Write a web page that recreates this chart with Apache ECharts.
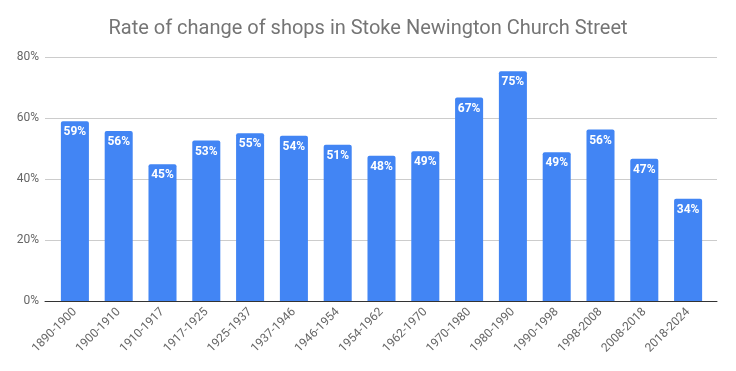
<!DOCTYPE html>
<html><head><meta charset="utf-8">
<script src="https://cdn.jsdelivr.net/npm/echarts@6/dist/echarts.min.js"></script>
<style>html,body{margin:0;padding:0;background:#fff}#c{width:736px;height:371px}</style>
</head><body><div id="c"></div>
<script>
const categories = ["1890-1900","1900-1910","1910-1917","1917-1925","1925-1937","1937-1946","1946-1954","1954-1962","1962-1970","1970-1980","1980-1990","1990-1998","1998-2008","2008-2018","2018-2024"];
const values = [58.9, 55.7, 44.8, 52.6, 55.0, 54.2, 51.2, 47.6, 49.1, 66.7, 75.3, 48.8, 56.2, 46.6, 33.5];
const yTicks = [0, 20, 40, 60, 80];

const yMin = yTicks[0], yMax = yTicks[yTicks.length-1];
const chart = echarts.init(document.getElementById('c'));
chart.setOption({
  animation: false,
  title: {
    text: 'Rate of change of shops in Stoke Newington Church Street',
    left: 'center', top: 14,
    textStyle: {fontFamily: 'Roboto', fontSize: 20, fontWeight: 'normal', color: '#757575'}
  },
  grid: [
    {left: 45, right: 19, top: 57, bottom: 70},
    {left: 53, right: 26, top: 57, bottom: 70}
  ],
  xAxis: [
    {gridIndex: 0, type: 'value', min: 0, max: 1, axisLine: {onZero: false, lineStyle: {color: '#333'}},
     axisTick: {show: false}, axisLabel: {show: false}, splitLine: {show: false}},
    {gridIndex: 1, type: 'category', data: categories,
     axisLine: {show: false}, axisTick: {show: false},
     axisLabel: {rotate: 45, color: '#666', fontFamily: 'Roboto', fontSize: 12, margin: 9, interval: 0}}
  ],
  yAxis: [
    {gridIndex: 0, type: 'value', min: yMin, max: yMax, interval: 20,
     axisLine: {show: false}, axisTick: {show: false},
     splitLine: {lineStyle: {color: '#ccc'}},
     axisLabel: {formatter: v => v + '%', color: '#666', fontFamily: 'Roboto', fontSize: 12, margin: 6}},
    {gridIndex: 1, type: 'value', min: yMin, max: yMax, interval: 20,
     axisLine: {show: false}, axisTick: {show: false}, splitLine: {show: false}, axisLabel: {show: false}}
  ],
  series: [{
    type: 'bar', data: values, xAxisIndex: 1, yAxisIndex: 1, barWidth: '64%',
    itemStyle: {color: '#4285F4', borderRadius: [2,2,0,0]},
    label: {show: true, position: 'insideTop', distance: 5, color: '#fff', fontWeight: 'bold',
      fontFamily: 'Roboto', fontSize: 12, formatter: p => Math.round(p.value) + '%'}
  }]
});
</script></body></html>
